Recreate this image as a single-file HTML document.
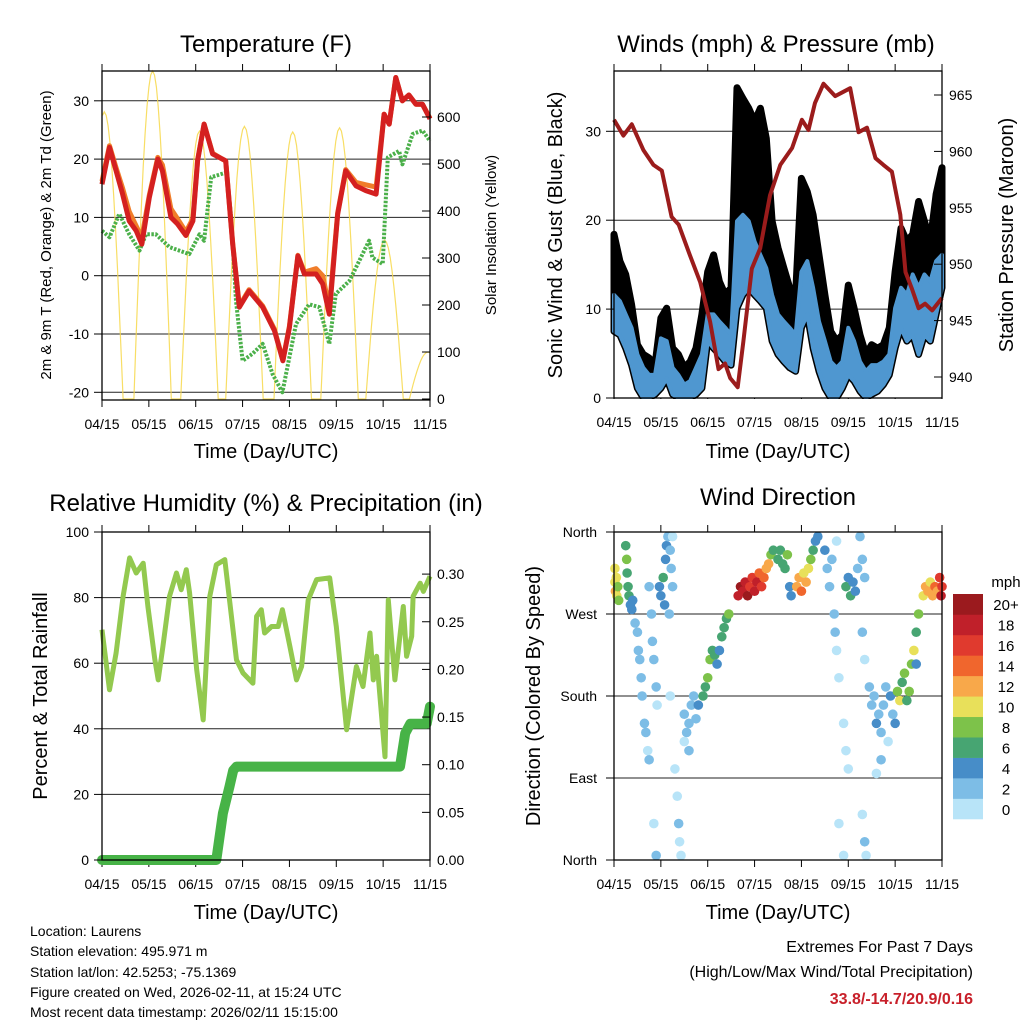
<!DOCTYPE html>
<html><head><meta charset="utf-8"><style>
html,body{margin:0;padding:0;background:#fff;}
svg{display:block;font-family:"Liberation Sans",Arial,sans-serif;}
</style></head><body>
<svg id="s" width="1024" height="1024" viewBox="0 0 1024 1024" xmlns="http://www.w3.org/2000/svg">
<rect width="1024" height="1024" fill="#fff"/>
<g id="g"></g>
<text x="266" y="52" font-size="24" text-anchor="middle">Temperature (F)</text>
<text x="776" y="52" font-size="24" text-anchor="middle">Winds (mph) &amp; Pressure (mb)</text>
<text x="266" y="511" font-size="24" text-anchor="middle">Relative Humidity (%) &amp; Precipitation (in)</text>
<text x="778" y="505" font-size="24" text-anchor="middle">Wind Direction</text>
<text x="266" y="458" font-size="20" text-anchor="middle">Time (Day/UTC)</text>
<text x="778" y="458" font-size="20" text-anchor="middle">Time (Day/UTC)</text>
<text x="266" y="919" font-size="20" text-anchor="middle">Time (Day/UTC)</text>
<text x="778" y="919" font-size="20" text-anchor="middle">Time (Day/UTC)</text>
<text transform="translate(51,235) rotate(-90)" font-size="15" text-anchor="middle">2m &amp; 9m T (Red, Orange) &amp; 2m Td (Green)</text>
<text transform="translate(496,235) rotate(-90)" font-size="15" text-anchor="middle">Solar Insolation (Yellow)</text>
<text transform="translate(562,235) rotate(-90)" font-size="20" text-anchor="middle">Sonic Wind &amp; Gust (Blue, Black)</text>
<text transform="translate(1013,235) rotate(-90)" font-size="20" text-anchor="middle">Station Pressure (Maroon)</text>
<text transform="translate(47,696) rotate(-90)" font-size="20" text-anchor="middle">Percent &amp; Total Rainfall</text>
<text transform="translate(540,696) rotate(-90)" font-size="20" text-anchor="middle">Direction (Colored By Speed)</text>
<g font-size="14">
<text x="30" y="936">Location: Laurens</text>
<text x="30" y="956">Station elevation: 495.971 m</text>
<text x="30" y="977">Station lat/lon: 42.5253; -75.1369</text>
<text x="30" y="997">Figure created on Wed, 2026-02-11, at 15:24 UTC</text>
<text x="30" y="1017">Most recent data timestamp: 2026/02/11 15:15:00</text>
</g>
<text x="973" y="952" font-size="16" text-anchor="end">Extremes For Past 7 Days</text>
<text x="973" y="977" font-size="16" text-anchor="end">(High/Low/Max Wind/Total Precipitation)</text>
<text x="973" y="1004" font-size="16" font-weight="bold" fill="#c8202a" text-anchor="end">33.8/-14.7/20.9/0.16</text>
</svg>
<script>
// ---- data ----
const timeLabels=["04/15","05/15","06/15","07/15","08/15","09/15","10/15","11/15"];
const tempT=[0,.16,.3,.44,.58,.73,.85,1.01,1.19,1.29,1.47,1.61,1.79,1.94,2.04,2.18,2.36,2.57,2.64,2.79,2.93,3.14,3.43,3.68,3.86,4.0,4.18,4.32,4.57,4.71,4.85,5.03,5.2,5.42,5.63,5.85,6.02,6.13,6.27,6.41,6.55,6.7,6.84,7];
const tempRed=[15.7,22,18,14,9.4,7.7,5.4,13.4,20,18,10,8.9,6.9,9.4,19.7,26,20.9,20,19.7,5.4,-5.4,-2.6,-5.4,-9.4,-14.6,-8.9,3.4,0.3,0.3,-1.4,-6.6,10.6,18,15.4,14.6,14,27.7,26,34,30,31,29.4,29.4,26.9];
const tempOrange=[16.2,22.3,18.5,15,11,8.5,6.5,13.8,20.3,19,11.5,9.8,7.5,9.8,19.9,26,21,20,19.7,5.6,-5.2,-2.4,-5.2,-9.2,-14.5,-8.7,3.5,0.6,1.2,0,-5.6,10.8,18.2,16,15.6,15.2,27.7,26,34,30,31,29.4,29.4,27];
const dewT=[0,.16,.37,.58,.8,.94,1.15,1.44,1.65,1.86,2.08,2.18,2.33,2.65,2.75,2.86,3.0,3.21,3.43,3.64,3.85,4.14,4.42,4.64,4.85,4.99,5.28,5.42,5.7,5.77,5.99,6.1,6.34,6.41,6.63,6.84,7];
const dewVal=[7.7,6.6,10.6,7.1,4.3,7.1,7.1,4.9,4.3,3.7,7.1,6,16.9,17.7,10.6,-4.3,-14.6,-13.4,-11.7,-16.9,-20,-8.3,-4.9,-5.4,-11.7,-3.1,-0.9,1.4,6,3.1,2,20.3,21.4,19.1,24.3,24.9,23.1];
const solarPeakT=[0.05,1.08,2.08,3.04,4.07,5.07,6.03,6.96];
const solarPeakV=[611,698,570,580,568,577,338,100];
const tempTicks=[-20,-10,0,10,20,30];
const solarTicks=[0,100,200,300,400,500,600];

const windT=[];for(let i=0;i<=56;i++)windT.push(i*0.125);
const gustHi=[18.4,15.4,13.9,10.5,6,4.9,4.5,3.7,9,10.1,5.6,4.9,3.4,4.1,5.6,9.4,14.2,16.1,13.1,11.6,12.4,34.9,33.7,32.6,31.1,32.6,29.2,19.9,16.9,14.6,12.4,11.6,24.7,23.2,20.6,16.1,11.6,7.5,6.4,7.1,12.7,10.1,7.1,4.9,6,5.6,6,7.9,14.2,19.1,17.6,18.4,22.1,19.9,17.6,22.9,25.9];
const windHi=[11.6,10.9,9.4,7.9,4.9,3.4,2.6,2.6,6.7,6.4,3.4,2.6,1.5,1.9,3.4,4.9,9.4,9.4,8.6,7.9,7.1,19.9,20.6,19.9,17.6,16.1,14.6,11.6,9.4,8.6,7.9,7.1,14.2,15.4,12.4,8.6,6.4,4.1,3.4,4.1,7.9,6.4,4.1,3,3.7,3.7,4.1,4.9,10.1,12.4,11.6,13.9,12.4,13.9,13.1,15.4,16.1];
const windLo=[7.5,7.1,5.6,3.7,1.1,0,0,0.4,1.1,2.2,0.4,0,0,0,0.4,1.1,6.4,5.6,4.9,4.1,3.7,10.1,11.6,12.4,11.6,10.9,10.1,6.4,4.9,4.1,3.4,3,7.9,9.4,5.6,3,1.1,0,0,1.1,2.6,1.9,0.75,0,0.4,0.75,1.5,2.6,5.6,7.9,6.4,7.1,4.9,7.1,6.4,9.4,12.4];
const presT=[0,.2,.38,.63,.84,1.02,1.23,1.38,1.62,1.84,2.05,2.23,2.37,2.48,2.64,2.76,2.94,3.12,3.33,3.55,3.8,4.01,4.15,4.29,4.47,4.72,4.86,5.04,5.22,5.4,5.58,5.75,5.93,6.11,6.22,6.36,6.5,6.64,6.79,7];
const presVal=[962.8,961.4,962.4,960.1,958.8,958.3,954.2,953.5,950.8,948.4,944.9,940.7,941.2,939.9,939.1,943.1,949.6,951.4,956.1,958.8,960.3,962.8,961.9,964.3,966,964.9,965.2,965.6,961.7,962.1,959.4,958.8,958.2,954.4,949.3,947.8,946.1,946.5,945.9,947];
const windTicks=[0,10,20,30];
const presTicks=[940,945,950,955,960,965];

const rhT=[0,.16,.3,.45,.59,.73,.88,.98,1.13,1.2,1.3,1.44,1.59,1.69,1.8,1.87,2.02,2.16,2.3,2.44,2.62,2.73,2.87,3.01,3.22,3.3,3.4,3.47,3.62,3.76,3.85,4.01,4.15,4.26,4.4,4.58,4.86,5.0,5.22,5.43,5.57,5.72,5.79,5.86,6.04,6.11,6.25,6.43,6.5,6.61,6.64,6.79,6.86,7];
const rhVal=[70.2,51.9,63.1,80.4,92.1,87.5,90.5,77.3,61,54.9,65.1,80.4,87.5,82.4,88.5,81.4,58,42.7,80.4,90,91.6,78.3,61,57,53.9,74.3,76.3,69.2,71.2,71.2,76.3,65.1,54.9,59,79.3,85.5,86,71.2,39.7,59,52.9,69.2,54.9,62.1,31.5,79.3,54.9,77.3,62.1,68.2,80.4,84.4,81.9,86.5];
const precipT=[0,2.44,2.58,2.72,2.8,2.87,6.36,6.47,6.58,6.93,7];
const precipVal=[0,0,0.049,0.077,0.094,0.098,0.098,0.133,0.143,0.143,0.161];
const rhTicks=[0,20,40,60,80,100];
const precipTicks=[0,0.05,0.10,0.15,0.20,0.25,0.30];

const dirT=[0.02,0.03,0.05,0.06,0.08,0.1,0.02,0.25,0.27,0.28,0.3,0.32,0.35,0.38,0.4,0.45,0.5,0.52,0.55,0.58,0.6,0.65,0.68,0.72,0.75,0.8,0.82,0.85,0.9,0.92,0.75,0.85,0.9,0.97,1.0,1.05,1.08,1.1,1.12,1.15,1.2,1.22,1.25,1.18,1.25,1.2,1.3,1.35,1.38,1.4,1.43,1.5,1.55,1.6,1.65,1.7,1.75,1.5,1.6,1.8,1.9,1.95,2.0,2.05,2.1,2.15,2.2,2.25,2.3,2.35,2.4,2.45,2.65,2.7,2.75,2.8,2.85,2.9,2.95,3.0,3.05,3.1,3.15,3.2,3.25,3.3,3.35,3.4,3.5,3.55,3.6,3.65,3.7,3.75,3.78,3.9,3.95,4.0,4.05,4.1,4.15,4.2,4.25,4.3,4.35,4.5,4.55,4.6,4.65,4.7,4.72,4.75,4.8,4.9,4.95,5.0,4.8,4.9,4.75,4.95,5.0,5.05,5.1,5.15,5.2,5.25,5.3,5.35,5.3,5.35,5.3,5.35,5.38,5.45,5.5,5.55,5.6,5.65,5.7,5.75,5.8,5.85,5.9,5.95,6.0,5.6,5.7,6.05,6.1,6.15,6.2,6.25,6.3,6.35,6.4,6.45,6.5,6.45,6.6,6.65,6.7,6.75,6.8,6.85,6.9,6.95,6.98,7.0];
const dirDeg=[305,295,310,290,300,285,320,345,330,315,300,290,280,275,285,260,250,230,220,200,180,150,140,120,300,270,240,220,190,170,110,40,5,300,290,310,280,330,345,355,340,320,300,270,355,180,100,70,40,20,5,160,140,150,170,180,155,130,120,170,180,190,200,220,230,225,215,230,245,255,265,270,290,300,295,305,290,300,310,295,305,315,300,310,320,325,335,340,330,340,325,320,335,300,290,300,310,295,315,305,320,330,340,350,355,340,320,300,330,270,250,230,200,150,120,100,40,5,350,300,310,290,305,295,320,355,330,310,250,220,50,20,5,190,170,180,150,160,140,170,190,130,180,160,150,95,110,185,175,195,205,175,185,215,230,250,270,215,290,300,295,305,290,300,295,310,290,300];
const dirSpd=[11,12,10,10,9,8,10,7,8,6,7,6,5,4,4,3,3,2,2,3,2,3,2,1,3,2,2,3,2,1,2,1,3,4,5,6,4,4,4,3,2,2,2,3,1,1,1,1,2,1,1,2,3,2,3,2,2,1,2,4,6,7,8,8,7,6,4,4,6,6,7,8,18,20,19,18,20,17,16,18,19,15,16,14,13,12,8,7,6,6,6,7,8,4,4,13,12,14,11,12,10,8,7,5,4,4,3,3,2,2,2,1,1,1,1,1,1,1,1,6,5,6,4,4,3,2,2,2,2,1,1,2,1,3,3,2,4,3,2,3,2,1,4,3,4,1,2,8,10,7,8,6,8,9,10,7,8,4,11,13,12,10,12,14,12,16,18,17];
const dirTickLabels=["North","East","South","West","North"];
const speedLabels=["0","2","4","6","8","10","12","14","16","18","20+"];
const speedColors=["#b8e4f8","#7dbde6","#478dc8","#47a572","#7dc24a","#e8e05a","#f8a84a","#f0662d","#e03a2e","#c0202a","#9b1a1e"];

// ---- helpers ----
const NS="http://www.w3.org/2000/svg";
const G=document.getElementById('g');
function mk(tag,attrs,parent){const e=document.createElementNS(NS,tag);for(const k in attrs)e.setAttribute(k,attrs[k]);(parent||G).appendChild(e);return e;}
function txt(x,y,s,size,anchor,parent){const e=mk('text',{x:x,y:y,'font-size':size,'text-anchor':anchor},parent);e.textContent=s;return e;}
function xScale(p){return t=>p.x0+t*(p.x1-p.x0)/7;}
function pathD(xs,ys){return xs.map((x,i)=>(i?'L':'M')+x.toFixed(1)+','+ys[i].toFixed(1)).join('');}

const P1={x0:102,x1:430,y0:71,y1:400},P2={x0:614,x1:942,y0:71,y1:398},P3={x0:102,x1:430,y0:532,y1:860},P4={x0:614,x1:942,y0:532,y1:860};

function frame(p,name){
  const g=mk('g',{});
  
  
  const X=xScale(p);
  timeLabels.forEach((l,i)=>{
    const x=X(i);
    mk('line',{x1:x,y1:p.y1,x2:x,y2:p.y1+7,stroke:'#000','stroke-width':1},g);
    mk('line',{x1:x,y1:p.y0,x2:x,y2:p.y0-7,stroke:'#000','stroke-width':1},g);
    const t=txt(x,p.y1+29,l,14,'middle',g);
    
    
  });
  return g;
}
function box(p){mk('rect',{x:p.x0,y:p.y0,width:p.x1-p.x0,height:p.y1-p.y0,fill:'none',stroke:'#000','stroke-width':1.3});}
function hgrid(p,ys){ys.forEach(y=>mk('line',{x1:p.x0,x2:p.x1,y1:y,y2:y,stroke:'#222','stroke-width':1}));}
function leftTicks(p,vals,Y,fmt){vals.forEach(v=>{const y=Y(v);mk('line',{x1:p.x0-8,x2:p.x0,y1:y,y2:y,stroke:'#000'});const t=txt(p.x0-13,y+5,fmt(v),14,'end');});}
function rightTicks(p,vals,Y,fmt){vals.forEach(v=>{const y=Y(v);mk('line',{x1:p.x1-8,x2:p.x1,y1:y,y2:y,stroke:'#000'});const t=txt(p.x1+7,y+5,fmt(v),14,'start');});}

// ---- Panel 1: temperature ----
(function(){
  const p=P1,X=xScale(p);
  const Y=v=>275.7-v*5.83, S=s=>399-s*0.47;
  frame(p,'temperature-panel');
  hgrid(p,tempTicks.map(Y));
  let xs=[],ys=[];
  solarPeakT.forEach((pt,i)=>{
    for(let k=0;k<=20;k++){const tt=pt-0.4+k*0.04;if(tt<0||tt>7)continue;const f=Math.sin(Math.PI*k/20);xs.push(X(tt));ys.push(Math.max(p.y0,S(solarPeakV[i]*f)));}
  });
  const sol=mk('path',{d:pathD(xs,ys),fill:'none',stroke:'#f7d84a','stroke-width':1.2,opacity:.85});
  
  
  const dew=mk('path',{d:pathD(dewT.map(X),dewVal.map(Y)),fill:'none',stroke:'#4bb04a','stroke-width':4,'stroke-dasharray':'2.5 1.5','stroke-linejoin':'round'});
  
  
  const or=mk('path',{d:pathD(tempT.map(X),tempOrange.map(Y)),fill:'none',stroke:'#f07d2a','stroke-width':5,'stroke-linejoin':'round'});
  
  
  const rd=mk('path',{d:pathD(tempT.map(X),tempRed.map(Y)),fill:'none',stroke:'#d42020','stroke-width':5,'stroke-linejoin':'round'});
  
  
  box(p);
  leftTicks(p,tempTicks,Y,v=>String(v));
  rightTicks(p,solarTicks,S,v=>String(v));
})();

// ---- Panel 2: winds ----
(function(){
  const p=P2,X=xScale(p);
  const Y=w=>398-w*8.89, PR=v=>95+(965-v)*11.28;
  frame(p,'winds-panel');
  hgrid(p,windTicks.map(Y));
  const xs=windT.map(X);
  const gd=pathD(xs.concat(xs.slice().reverse()),gustHi.map(Y).concat(windLo.map(Y).reverse()))+'Z';
  const gust=mk('path',{d:gd,fill:'#000',stroke:'#000','stroke-width':7,'stroke-linejoin':'round'});
  
  
  const wd=pathD(xs.concat(xs.slice().reverse()),windHi.map(Y).concat(windLo.map(v=>Math.min(p.y1,Y(v))).reverse()))+'Z';
  const wind=mk('path',{d:wd,fill:'#4f97d0',stroke:'#4f97d0','stroke-width':4,'stroke-linejoin':'round'});
  
  
  const pr=mk('path',{d:pathD(presT.map(X),presVal.map(PR)),fill:'none',stroke:'#9b1c1c','stroke-width':4,'stroke-linejoin':'round'});
  
  
  mk('rect',{x:p.x0-10,y:p.y1+1,width:p.x1-p.x0+20,height:6,fill:'#fff'});
  box(p);
  leftTicks(p,windTicks,Y,v=>String(v));
  rightTicks(p,presTicks,PR,v=>String(v));
})();

// ---- Panel 3: RH & precip ----
(function(){
  const p=P3,X=xScale(p);
  const Y=r=>860-r*3.28, PC=v=>860-v*953;
  frame(p,'humidity-panel');
  hgrid(p,rhTicks.map(Y));
  const rh=mk('path',{d:pathD(rhT.map(X),rhVal.map(Y)),fill:'none',stroke:'#93c94f','stroke-width':5,'stroke-linejoin':'round'});
  
  
  const pc=mk('path',{d:pathD(precipT.map(X),precipVal.map(PC)),fill:'none',stroke:'#47b347','stroke-width':10,'stroke-linejoin':'round','stroke-linecap':'round'});
  
  
  box(p);
  leftTicks(p,rhTicks,Y,v=>String(v));
  rightTicks(p,precipTicks,PC,v=>v.toFixed(2));
})();

// ---- Panel 4: wind direction ----
(function(){
  const p=P4,X=xScale(p);
  const Y=d=>860-d*328/360;
  frame(p,'wind-direction-panel');
  hgrid(p,[0,90,180,270,360].map(Y));
  dirT.forEach((t,i)=>{
    const s=dirSpd[i];const bin=Math.min(10,Math.floor(s/2));
    const c=mk('circle',{cx:X(t),cy:Y(dirDeg[i]),r:4.8,fill:speedColors[bin]});
    
    
  });
  box(p);
  dirTickLabels.forEach((l,i)=>{const y=Y(i*90);mk('line',{x1:p.x0-8,x2:p.x0,y1:y,y2:y,stroke:'#000'});const t=txt(p.x0-17,y+5,l,14,'end');});
  const cb=mk('g',{});
  
  
  const h=225/11;
  speedColors.forEach((c,i)=>{
    const y=819-(i+1)*h;
    const r=mk('rect',{x:953,y:y,width:30,height:h+0.3,fill:c},cb);
    
    
    const t=txt(1006,y+h/2+6,speedLabels[i],15,'middle',cb);
    
    
  });
  const u=txt(1006,587,'mph',15,'middle',cb);
  
  
})();
</script>
</body></html>
